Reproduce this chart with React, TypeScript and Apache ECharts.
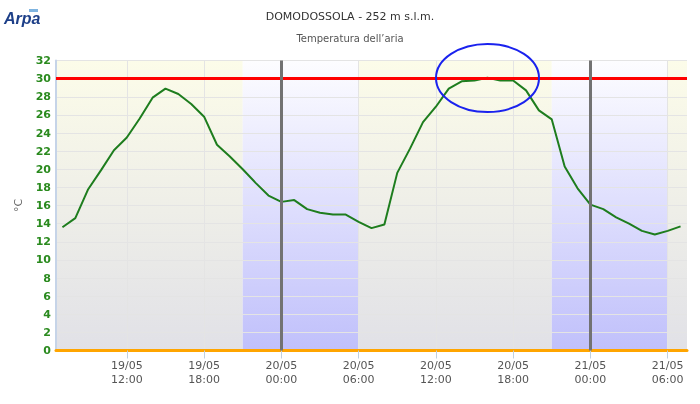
import React, { useEffect, useRef } from "react";
import * as echarts from "echarts";

const titleText = "DOMODOSSOLA - 252 m s.l.m.";
const subtitleText = "Temperatura dell’aria";
const yAxisName = "°C";

// hourly readings starting 19/05 07:00
const firstReading = [2022, 4, 19, 7]; // year, month index, day, hour
const temperatures = [
  13.6, 14.6, 17.8, 19.9, 22.1, 23.5, 25.6, 27.9, 28.9, 28.3, 27.2, 25.8, 22.7, 21.4, 20.0, 18.5, 17.1,
  16.4, 16.6, 15.6, 15.2, 15.0, 15.0, 14.2, 13.5, 13.9, 19.6, 22.3, 25.2, 26.9, 28.9, 29.7, 29.8, 30.1,
  29.8, 29.8, 28.7, 26.5, 25.5, 20.3, 17.9,
  16.1, 15.6, 14.7, 14.0, 13.2, 12.8, 13.2, 13.7,
];
const thresholdValue = 30;
const midnights = [new Date(2022, 4, 20, 0).getTime(), new Date(2022, 4, 21, 0).getTime()];
const tickTimes = [
  new Date(2022, 4, 19, 12).getTime(),
  new Date(2022, 4, 19, 18).getTime(),
  new Date(2022, 4, 20, 0).getTime(),
  new Date(2022, 4, 20, 6).getTime(),
  new Date(2022, 4, 20, 12).getTime(),
  new Date(2022, 4, 20, 18).getTime(),
  new Date(2022, 4, 21, 0).getTime(),
  new Date(2022, 4, 21, 6).getTime(),
];
const axisMin = new Date(2022, 4, 19, 6, 30).getTime();
const axisMax = new Date(2022, 4, 21, 7, 30).getTime();
// [start, end, isNight]
const bands: [number, number, boolean][] = [
  [axisMin, new Date(2022, 4, 19, 21).getTime(), false],
  [new Date(2022, 4, 19, 21).getTime(), new Date(2022, 4, 20, 6).getTime(), true],
  [new Date(2022, 4, 20, 6).getTime(), new Date(2022, 4, 20, 21).getTime(), false],
  [new Date(2022, 4, 20, 21).getTime(), new Date(2022, 4, 21, 6).getTime(), true],
  [new Date(2022, 4, 21, 6).getTime(), axisMax, false],
];

const HOUR = 3600 * 1000;
const pad = (n: number) => (n < 10 ? "0" + n : "" + n);

export default function App() {
  const ref = useRef<HTMLDivElement>(null);
  useEffect(() => {
    if (!ref.current) return;
    const chart = echarts.init(ref.current, undefined, { renderer: "svg" });
    const start = new Date(firstReading[0], firstReading[1], firstReading[2], firstReading[3]).getTime();
    const seriesData = temperatures.map((t, i) => [start + i * HOUR, t]);
    const dayColor = new echarts.graphic.LinearGradient(0, 0, 0, 1, [
      { offset: 0, color: "#fcfce9" },
      { offset: 1, color: "#e1e1e7" },
    ]);
    const nightColor = new echarts.graphic.LinearGradient(0, 0, 0, 1, [
      { offset: 0, color: "#fdfdff" },
      { offset: 1, color: "#c0c0fb" },
    ]);
    const font = "'DejaVu Sans', Verdana, sans-serif";
    chart.setOption({
      animation: false,
      title: {
        text: titleText,
        subtext: subtitleText,
        left: "center",
        top: 11,
        padding: 0,
        itemGap: 11,
        textStyle: { fontFamily: font, fontSize: 11, fontWeight: "normal", color: "#333" },
        subtextStyle: { fontFamily: font, fontSize: 10, color: "#555" },
      },
      grid: { left: 56, right: 13, top: 60.5, bottom: 53.5 },
      xAxis: {
        type: "value",
        min: axisMin,
        max: axisMax,
        z: 1.5,
        axisLine: { lineStyle: { color: "#ffa500", width: 3 } },
        axisTick: { show: true, length: 8, customValues: tickTimes, lineStyle: { color: "#c0d0e0" } },
        splitLine: { show: true, customValues: tickTimes, lineStyle: { color: "#e4e4e4", width: 1 } },
        axisLabel: {
          customValues: tickTimes,
          color: "#555",
          fontFamily: font,
          fontSize: 11,
          lineHeight: 14,
          margin: 8,
          formatter: (v: number) => {
            const d = new Date(v);
            return pad(d.getDate()) + "/" + pad(d.getMonth() + 1) + "\n" + pad(d.getHours()) + ":" + pad(d.getMinutes());
          },
        },
      },
      yAxis: {
        type: "value",
        min: 0,
        max: 32,
        interval: 2,
        z: 1.5,
        name: yAxisName,
        nameLocation: "middle",
        nameGap: 32,
        nameRotate: 90,
        nameTextStyle: { color: "#666", fontFamily: font, fontSize: 11 },
        axisLine: { show: true, lineStyle: { color: "#c6d4e8", width: 2 } },
        axisTick: { show: false },
        splitLine: { show: true, lineStyle: { color: "#e4e4e4", width: 1 } },
        axisLabel: { color: "#2a8a1e", fontWeight: "bold", fontFamily: font, fontSize: 11, margin: 5 },
      },
      series: [
        {
          type: "line",
          name: "bands",
          z: 1,
          silent: true,
          data: seriesData,
          showSymbol: false,
          lineStyle: { opacity: 0 },
          markArea: {
            silent: true,
            z: 1,
            data: bands.map((b) => [
              { xAxis: b[0], itemStyle: { color: b[2] ? nightColor : dayColor } },
              { xAxis: b[1] },
            ]),
          },
        },
        {
          type: "line",
          name: "Temperatura",
          z: 3,
          data: seriesData,
          showSymbol: false,
          lineStyle: { color: "#1e7d1e", width: 2 },
          markLine: {
            silent: true,
            symbol: "none",
            label: { show: false },
            data: [
              { yAxis: thresholdValue, lineStyle: { color: "#ff0000", width: 3, type: "solid" } },
              ...midnights.map((m) => ({ xAxis: m, lineStyle: { color: "#727272", width: 3, type: "solid" } })),
            ],
          },
        },
      ],
      graphic: [
        { type: "rect", shape: { x: 29, y: 9, width: 9, height: 3 }, style: { fill: "#7fb4e0" } },
        { type: "text", left: 4, top: 10, style: { text: "Arpa", fill: "#1d3f88", font: "bold italic 16px 'Liberation Sans', Arial" } },
        {
          type: "ellipse",
          shape: { cx: 487.5, cy: 78, rx: 51.5, ry: 34 },
          style: { fill: "none", stroke: "#1a22ee", lineWidth: 2 },
          z: 100,
        },
      ],
    });
    return () => chart.dispose();
  }, []);
  return <div ref={ref} style={{ position: "fixed", left: 0, top: 0, width: 700, height: 404 }} />;
}
